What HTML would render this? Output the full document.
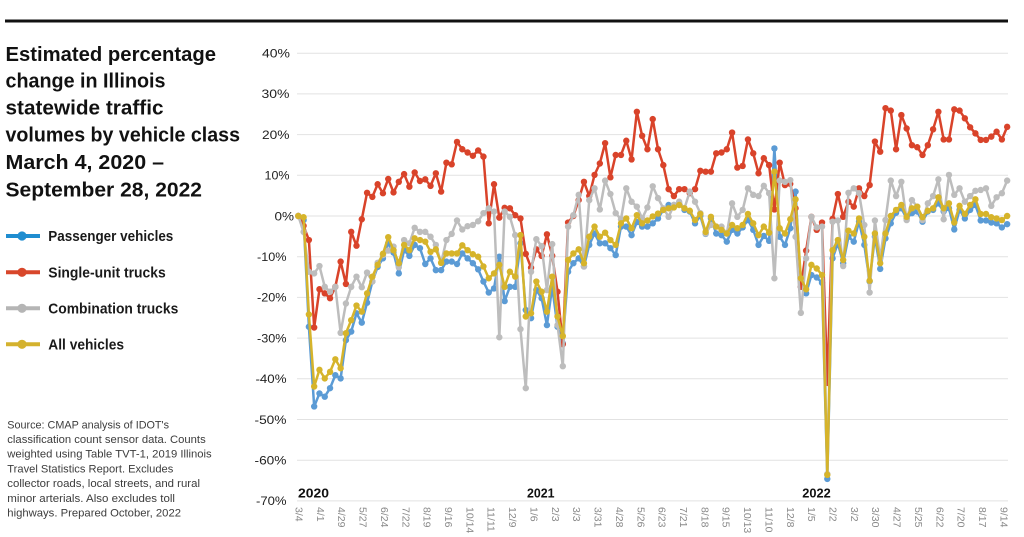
<!DOCTYPE html>
<html><head><meta charset="utf-8">
<style>
html,body{margin:0;padding:0;background:#fff;}
body{width:1024px;height:537px;overflow:hidden;}
svg{display:block;}
.t{font-family:"Liberation Sans",sans-serif;}
</style></head>
<body>
<svg width="1024" height="537" viewBox="0 0 1024 537" xmlns="http://www.w3.org/2000/svg">
<defs>
<marker id="mb" markerUnits="userSpaceOnUse" markerWidth="1.21" markerHeight="1.572" viewBox="0 0 6.4 6.4" refX="3.2" refY="3.2" preserveAspectRatio="none" overflow="visible"><circle cx="3.2" cy="3.2" r="3.2" fill="#5b9bd5"/></marker>
<marker id="mr" markerUnits="userSpaceOnUse" markerWidth="1.21" markerHeight="1.572" viewBox="0 0 6.4 6.4" refX="3.2" refY="3.2" preserveAspectRatio="none" overflow="visible"><circle cx="3.2" cy="3.2" r="3.2" fill="#d9432a"/></marker>
<marker id="mg" markerUnits="userSpaceOnUse" markerWidth="1.21" markerHeight="1.572" viewBox="0 0 6.4 6.4" refX="3.2" refY="3.2" preserveAspectRatio="none" overflow="visible"><circle cx="3.2" cy="3.2" r="3.2" fill="#bdbdbd"/></marker>
<marker id="my" markerUnits="userSpaceOnUse" markerWidth="1.21" markerHeight="1.572" viewBox="0 0 6.4 6.4" refX="3.2" refY="3.2" preserveAspectRatio="none" overflow="visible"><circle cx="3.2" cy="3.2" r="3.2" fill="#d6b42b"/></marker>
</defs>

<!-- top rule -->
<rect x="5" y="19.5" width="1003" height="3" fill="#111"/>

<!-- title -->
<g class="t" font-size="20" font-weight="bold" fill="#111">
<text x="5.5" y="61" textLength="210.5" lengthAdjust="spacingAndGlyphs">Estimated percentage</text>
<text x="5.5" y="87.7" textLength="160" lengthAdjust="spacingAndGlyphs">change in Illinois</text>
<text x="5.5" y="114.3" textLength="158" lengthAdjust="spacingAndGlyphs">statewide traffic</text>
<text x="5.5" y="141.7" textLength="234.5" lengthAdjust="spacingAndGlyphs">volumes by vehicle class</text>
<text x="5.5" y="169" textLength="158.5" lengthAdjust="spacingAndGlyphs">March 4, 2020 –</text>
<text x="5.5" y="196.5" textLength="196.5" lengthAdjust="spacingAndGlyphs">September 28, 2022</text>
</g>

<!-- legend -->
<g>
<line x1="6" y1="236" x2="40" y2="236" stroke="#1f8dd0" stroke-width="4"/><circle cx="22" cy="236" r="4.6" fill="#1f8dd0"/>
<line x1="6" y1="272.3" x2="40" y2="272.3" stroke="#d8472b" stroke-width="4"/><circle cx="22" cy="272.3" r="4.6" fill="#d8472b"/>
<line x1="6" y1="308.3" x2="40" y2="308.3" stroke="#b5b5b5" stroke-width="4"/><circle cx="22" cy="308.3" r="4.6" fill="#b5b5b5"/>
<line x1="6" y1="344.3" x2="40" y2="344.3" stroke="#d4b22e" stroke-width="4"/><circle cx="22" cy="344.3" r="4.6" fill="#d4b22e"/>
</g>
<g class="t" font-size="15" font-weight="bold" fill="#1a1a1a">
<text x="48.3" y="241" textLength="125" lengthAdjust="spacingAndGlyphs">Passenger vehicles</text>
<text x="48.3" y="277.3" textLength="117.4" lengthAdjust="spacingAndGlyphs">Single-unit trucks</text>
<text x="48.3" y="313.3" textLength="130" lengthAdjust="spacingAndGlyphs">Combination trucks</text>
<text x="48.3" y="349.3" textLength="75.7" lengthAdjust="spacingAndGlyphs">All vehicles</text>
</g>

<!-- source -->
<g class="t" font-size="11" fill="#3c3c3c">
<text x="7.3" y="428.3" textLength="161.7" lengthAdjust="spacingAndGlyphs">Source: CMAP analysis of IDOT's</text>
<text x="7.3" y="443" textLength="198.4" lengthAdjust="spacingAndGlyphs">classification count sensor data. Counts</text>
<text x="7.3" y="457.7" textLength="204.4" lengthAdjust="spacingAndGlyphs">weighted using Table TVT-1, 2019 Illinois</text>
<text x="7.3" y="472.4" textLength="166" lengthAdjust="spacingAndGlyphs">Travel Statistics Report. Excludes</text>
<text x="7.3" y="487.1" textLength="192.7" lengthAdjust="spacingAndGlyphs">collector roads, local streets, and rural</text>
<text x="7.3" y="501.8" textLength="167.7" lengthAdjust="spacingAndGlyphs">minor arterials. Also excludes toll</text>
<text x="7.3" y="516.5" textLength="173.7" lengthAdjust="spacingAndGlyphs">highways. Prepared October, 2022</text>
</g>

<!-- gridlines -->
<g stroke="#e2e2e2" stroke-width="1">
<line x1="297" y1="53.2" x2="1008" y2="53.2"/>
<line x1="297" y1="93.9" x2="1008" y2="93.9"/>
<line x1="297" y1="134.6" x2="1008" y2="134.6"/>
<line x1="297" y1="175.3" x2="1008" y2="175.3"/>
<line x1="297" y1="216" x2="1008" y2="216"/>
<line x1="297" y1="256.7" x2="1008" y2="256.7"/>
<line x1="297" y1="297.4" x2="1008" y2="297.4"/>
<line x1="297" y1="338.1" x2="1008" y2="338.1"/>
<line x1="297" y1="378.8" x2="1008" y2="378.8"/>
<line x1="297" y1="419.5" x2="1008" y2="419.5"/>
<line x1="297" y1="460.2" x2="1008" y2="460.2"/>
<line x1="297" y1="500.9" x2="1008" y2="500.9"/>
</g>

<!-- y labels -->
<g class="t" font-size="12" fill="#222" text-anchor="end">
<text x="290" y="57.5" textLength="28" lengthAdjust="spacingAndGlyphs">40%</text>
<text x="289.5" y="98.2" textLength="28" lengthAdjust="spacingAndGlyphs">30%</text>
<text x="289.5" y="138.9" textLength="27.5" lengthAdjust="spacingAndGlyphs">20%</text>
<text x="289.5" y="179.6" textLength="25" lengthAdjust="spacingAndGlyphs">10%</text>
<text x="294" y="220.3" textLength="19.5" lengthAdjust="spacingAndGlyphs">0%</text>
<text x="286.5" y="261" textLength="29.5" lengthAdjust="spacingAndGlyphs">-10%</text>
<text x="286.5" y="301.7" textLength="29.5" lengthAdjust="spacingAndGlyphs">-20%</text>
<text x="286.5" y="342.4" textLength="29.5" lengthAdjust="spacingAndGlyphs">-30%</text>
<text x="286.5" y="383.1" textLength="31" lengthAdjust="spacingAndGlyphs">-40%</text>
<text x="286.5" y="423.8" textLength="32" lengthAdjust="spacingAndGlyphs">-50%</text>
<text x="286.5" y="464.5" textLength="32" lengthAdjust="spacingAndGlyphs">-60%</text>
<text x="286.5" y="505.2" textLength="30.5" lengthAdjust="spacingAndGlyphs">-70%</text>
</g>

<!-- year labels -->
<g class="t" font-size="13" font-weight="bold" fill="#111">
<text x="298" y="497.7" textLength="31" lengthAdjust="spacingAndGlyphs">2020</text>
<text x="527" y="497.7" textLength="27.5" lengthAdjust="spacingAndGlyphs">2021</text>
<text x="802.3" y="497.7" textLength="28.5" lengthAdjust="spacingAndGlyphs">2022</text>
</g>

<!-- x labels -->
<g class="t" font-size="10.5" fill="#8a8a8a">
<text transform="translate(299.3,507) rotate(90)" dy="0.36em">3/4</text>
<text transform="translate(320.7,507) rotate(90)" dy="0.36em">4/1</text>
<text transform="translate(342.0,507) rotate(90)" dy="0.36em">4/29</text>
<text transform="translate(363.4,507) rotate(90)" dy="0.36em">5/27</text>
<text transform="translate(384.7,507) rotate(90)" dy="0.36em">6/24</text>
<text transform="translate(406.1,507) rotate(90)" dy="0.36em">7/22</text>
<text transform="translate(427.5,507) rotate(90)" dy="0.36em">8/19</text>
<text transform="translate(448.8,507) rotate(90)" dy="0.36em">9/16</text>
<text transform="translate(470.2,507) rotate(90)" dy="0.36em">10/14</text>
<text transform="translate(491.5,507) rotate(90)" dy="0.36em">11/11</text>
<text transform="translate(512.9,507) rotate(90)" dy="0.36em">12/9</text>
<text transform="translate(534.3,507) rotate(90)" dy="0.36em">1/6</text>
<text transform="translate(555.6,507) rotate(90)" dy="0.36em">2/3</text>
<text transform="translate(577.0,507) rotate(90)" dy="0.36em">3/3</text>
<text transform="translate(598.3,507) rotate(90)" dy="0.36em">3/31</text>
<text transform="translate(619.7,507) rotate(90)" dy="0.36em">4/28</text>
<text transform="translate(641.1,507) rotate(90)" dy="0.36em">5/26</text>
<text transform="translate(662.4,507) rotate(90)" dy="0.36em">6/23</text>
<text transform="translate(683.8,507) rotate(90)" dy="0.36em">7/21</text>
<text transform="translate(705.1,507) rotate(90)" dy="0.36em">8/18</text>
<text transform="translate(726.5,507) rotate(90)" dy="0.36em">9/15</text>
<text transform="translate(747.9,507) rotate(90)" dy="0.36em">10/13</text>
<text transform="translate(769.2,507) rotate(90)" dy="0.36em">11/10</text>
<text transform="translate(790.6,507) rotate(90)" dy="0.36em">12/8</text>
<text transform="translate(811.9,507) rotate(90)" dy="0.36em">1/5</text>
<text transform="translate(833.3,507) rotate(90)" dy="0.36em">2/2</text>
<text transform="translate(854.7,507) rotate(90)" dy="0.36em">3/2</text>
<text transform="translate(876.0,507) rotate(90)" dy="0.36em">3/30</text>
<text transform="translate(897.4,507) rotate(90)" dy="0.36em">4/27</text>
<text transform="translate(918.7,507) rotate(90)" dy="0.36em">5/25</text>
<text transform="translate(940.1,507) rotate(90)" dy="0.36em">6/22</text>
<text transform="translate(961.5,507) rotate(90)" dy="0.36em">7/20</text>
<text transform="translate(982.8,507) rotate(90)" dy="0.36em">8/17</text>
<text transform="translate(1004.2,507) rotate(90)" dy="0.36em">9/14</text>
</g>

<!-- series -->
<g transform="translate(298.3,216) scale(5.29,-4.07)" fill="none" stroke-width="2.5" stroke-linejoin="round" stroke-linecap="round">
<polyline vector-effect="non-scaling-stroke" stroke="#5b9bd5" marker-start="url(#mb)" marker-mid="url(#mb)" marker-end="url(#mb)" points="0,0 1,-1 2,-27.2 3,-46.8 4,-43.6 5,-44.4 6,-42.3 7,-39.1 8,-39.9 9,-30.5 10,-28.4 11,-23.9 12,-26.2 13,-21.3 14,-16.1 15,-12.5 16,-10.4 17,-6.7 18,-9 19,-14.1 20,-8.4 21,-9.8 22,-7.1 23,-7.9 24,-11.8 25,-10.4 26,-13.3 27,-13.3 28,-11.2 29,-11.2 30,-11.8 31,-9.2 32,-10.4 33,-11.6 34,-13.1 35,-16.1 36,-18.8 37,-17.8 38,-10 39,-20.9 40,-17.4 41,-17.4 42,-6.7 43,-23.1 44,-25.1 45,-18.2 46,-20.2 47,-26.8 48,-17.4 49,-27.2 50,-31.3 51,-13.7 52,-11.6 53,-10.4 54,-12.4 55,-7.1 56,-4.3 57,-6.7 58,-6.7 59,-7.9 60,-9.6 61,-2.6 62,-2.6 63,-4.7 64,-1.5 65,-2.6 66,-2.6 67,-1.8 68,-0.6 69,1.5 70,2.7 71,2.7 72,3.1 73,1.5 74,1.1 75,-1.8 76,0 77,-4.4 78,-0.6 79,-4.3 80,-4.7 81,-6.3 82,-3.4 83,-4.3 84,-2.8 85,-1 86,-3.4 87,-7.1 88,-4.9 89,-6.1 90,16.6 91,-5.1 92,-7.1 93,-3 94,6 95,-17.4 96,-19 97,-14.5 98,-15.1 99,-16.4 100,-64.6 101,-10.4 102,-6.7 103,-11.6 104,-5.1 105,-6.3 106,-1.4 107,-7.1 108,-16.1 109,-5.1 110,-13 111,-5.5 112,-1.8 113,0.8 114,1.9 115,-0.6 116,0.7 117,1.1 118,-1.4 119,1.1 120,1.5 121,3.1 122,1.1 123,1.9 124,-3.3 125,1.5 126,-0.6 127,1.5 128,2.7 129,-1.1 130,-1.1 131,-1.6 132,-1.8 133,-2.8 134,-2"/>
<polyline vector-effect="non-scaling-stroke" stroke="#d9432a" marker-start="url(#mr)" marker-mid="url(#mr)" marker-end="url(#mr)" points="0,0 1,-2.4 2,-5.9 3,-27.4 4,-18 5,-19 6,-20.2 7,-17.4 8,-11.2 9,-16.7 10,-3.9 11,-7.3 12,-0.8 13,5.7 14,4.7 15,7.8 16,5.6 17,9.1 18,5.8 19,8.4 20,10.3 21,7.2 22,10.7 23,8.6 24,9 25,7.4 26,10.5 27,6 28,13.1 29,12.7 30,18.2 31,16.4 32,15.6 33,14.8 34,16.1 35,14.6 36,-1.8 37,7.8 38,-0.4 39,2 40,1.9 41,0.2 42,-0.6 43,-9.3 44,-12.7 45,-8.2 46,-9.8 47,-4.5 48,-9.8 49,-18.6 50,-31.5 51,-1.6 52,0 53,3.9 54,8.4 55,4.9 56,10.1 57,12.9 58,17.9 59,9.5 60,15 61,15 62,18.5 63,13.9 64,25.6 65,19.7 66,16.4 67,23.8 68,16.4 69,12.5 70,6.6 71,4.9 72,6.6 73,6.6 74,5.6 75,6.6 76,11.1 77,10.9 78,10.9 79,15.4 80,15.6 81,16.4 82,20.5 83,11.9 84,12.3 85,18.8 86,15.4 87,10.5 88,14.2 89,12.5 90,1.6 91,13.1 92,7.6 93,7.9 94,1.9 95,-17.4 96,-8.5 97,-0.2 98,-3.4 99,-1.6 100,-41 101,-0.7 102,5.4 103,-0.2 104,3.5 105,2.3 106,6.8 107,4.9 108,7.6 109,18.3 110,15.8 111,26.5 112,25.9 113,16.4 114,24.8 115,21.5 116,17.4 117,16.9 118,15 119,17.4 120,21.3 121,25.6 122,18.8 123,18.8 124,26.2 125,25.9 126,24 127,21.8 128,20.3 129,18.7 130,18.7 131,19.5 132,20.7 133,18.8 134,21.9"/>
<polyline vector-effect="non-scaling-stroke" stroke="#bdbdbd" marker-start="url(#mg)" marker-mid="url(#mg)" marker-end="url(#mg)" points="0,0 1,-3.9 2,-13.7 3,-14.1 4,-12.3 5,-17.4 6,-18.6 7,-17.4 8,-28.7 9,-21.5 10,-17.4 11,-14.9 12,-17.5 13,-13.9 14,-16.1 15,-11.5 16,-9.6 17,-8.5 18,-7.5 19,-12.6 20,-5.9 21,-6.7 22,-2.9 23,-3.9 24,-3.9 25,-5.1 26,-7.1 27,-11.5 28,-5.9 29,-4.4 30,-1.1 31,-3.3 32,-2.5 33,-2.2 34,-1.3 35,0.7 36,1.9 37,1.1 38,-29.8 39,1.1 40,-0.2 41,-4.7 42,-27.8 43,-42.3 44,-13.7 45,-5.7 46,-7.4 47,-18.2 48,-6.9 49,-26.8 50,-36.9 51,-2.6 52,0.2 53,5.2 54,-12.4 55,3.9 56,6.8 57,1.6 58,8.7 59,5.4 60,0.7 61,-0.8 62,6.8 63,3.5 64,2.3 65,-0.6 66,2.1 67,7.3 68,4.4 69,1.9 70,-0.2 71,2.7 72,3.5 73,1.9 74,6 75,3.5 76,0.7 77,-4.3 78,-2.2 79,-2.6 80,-2.6 81,-4.3 82,3.1 83,-0.2 84,1.5 85,6.8 86,5.2 87,4.9 88,7.4 89,5.6 90,-15.3 91,8.7 92,8.4 93,8.8 94,-5.1 95,-23.8 96,-10.4 97,-0.2 98,-2.8 99,-2.6 100,-63.4 101,-1.4 102,-1.1 103,-12.3 104,5.7 105,6.8 106,5.6 107,-2.2 108,-18.8 109,-1.1 110,-10.4 111,-1 112,8.7 113,4.9 114,8.4 115,-1 116,3.9 117,2.3 118,-1 119,3.1 120,4.9 121,9 122,-0.8 123,10.1 124,5.2 125,6.8 126,3.5 127,4.9 128,6.2 129,6.4 130,6.8 131,2.5 132,4.6 133,5.6 134,8.7"/>
<polyline vector-effect="non-scaling-stroke" stroke="#d6b42b" marker-start="url(#my)" marker-mid="url(#my)" marker-end="url(#my)" points="0,0 1,-0.3 2,-24.2 3,-41.9 4,-37.8 5,-39.9 6,-38.3 7,-35.2 8,-37.4 9,-28.8 10,-25.6 11,-22 12,-23.5 13,-19 14,-14.9 15,-12 16,-9.3 17,-5.2 18,-8.4 19,-11.6 20,-7.1 21,-8.4 22,-5.5 23,-5.9 24,-6.3 25,-8.8 26,-8.2 27,-11.5 28,-9.2 29,-9.2 30,-9.2 31,-7.2 32,-8.4 33,-9.4 34,-10 35,-12.4 36,-15.3 37,-14.1 38,-12 39,-17.4 40,-13.7 41,-14.9 42,-4.7 43,-24.7 44,-23.9 45,-16.1 46,-18.6 47,-23.5 48,-14.9 49,-24.7 50,-29.5 51,-10.8 52,-9.2 53,-8.2 54,-11.6 55,-5.1 56,-2.6 57,-5.1 58,-4.1 59,-5.9 60,-7.1 61,-1.8 62,-0.6 63,-3 64,0.2 65,-1.8 66,-1.1 67,-0.1 68,0.6 69,1.5 70,1.9 71,2.1 72,2.7 73,1.9 74,1.3 75,-1 76,0.5 77,-3.9 78,-0.2 79,-2.6 80,-3.4 81,-4.3 82,-2.2 83,-3 84,-2.2 85,0.5 86,-1.8 87,-4.7 88,-2.6 89,-4.1 90,10.9 91,-3 92,-4.3 93,-0.8 94,4.1 95,-15.3 96,-18 97,-12 98,-12.9 99,-14.5 100,-63.6 101,-8.4 102,-5.9 103,-10.8 104,-3.6 105,-4.3 106,-0.6 107,-5.1 108,-15.9 109,-4.3 110,-11.6 111,-4.3 112,0 113,1.5 114,2.7 115,-0.2 116,1.9 117,2.3 118,-0.3 119,1.3 120,1.9 121,4.6 122,1.9 123,3.1 124,-1.6 125,2.5 126,0.5 127,2.7 128,4.1 129,0.5 130,0.5 131,-0.3 132,-0.6 133,-1 134,0"/>
</g>
</svg>
</body></html>
